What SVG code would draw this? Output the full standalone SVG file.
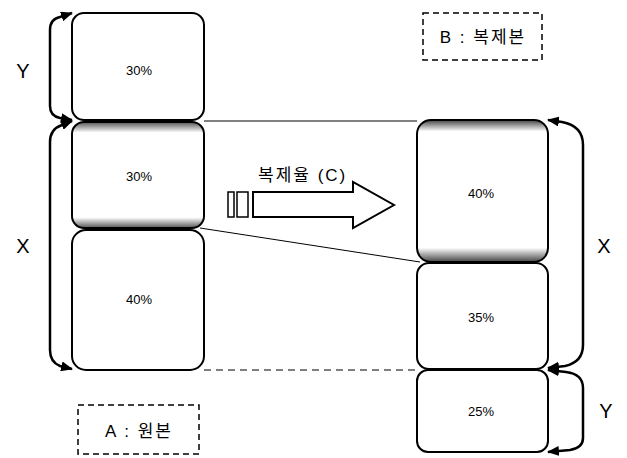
<svg xmlns="http://www.w3.org/2000/svg" width="627" height="458" viewBox="0 0 627 458">
<defs>
<linearGradient id="shadeL" x1="0" y1="0" x2="0" y2="1">
<stop offset="0" stop-color="#555"/><stop offset="0.1" stop-color="#fff"/><stop offset="0.9" stop-color="#fff"/><stop offset="1" stop-color="#555"/>
</linearGradient>
<linearGradient id="shadeR" x1="0" y1="0" x2="0" y2="1">
<stop offset="0" stop-color="#444"/><stop offset="0.08" stop-color="#fff"/><stop offset="0.9" stop-color="#fff"/><stop offset="1" stop-color="#444"/>
</linearGradient>
<marker id="ah" viewBox="0 0 12 10" refX="11" refY="5" markerWidth="12" markerHeight="10" markerUnits="userSpaceOnUse" orient="auto-start-reverse">
<path d="M0,0 L12,5 L0,10 Z" fill="#000"/>
</marker>
<style>
.box{fill:#fff;stroke:#000;stroke-width:2}
.pct{font-family:"Liberation Sans",Arial,sans-serif;font-size:13px;text-anchor:middle;fill:#000}
.lab{font-family:"Liberation Sans",Arial,sans-serif;font-size:20px;text-anchor:middle;fill:#000}
.brk{fill:none;stroke:#000;stroke-width:2.5}
.dash{fill:none;stroke:#000;stroke-width:1.5;stroke-dasharray:6,4}
.kr{font-family:"Liberation Sans","Noto Sans CJK KR",sans-serif;font-size:17px;fill:#000;letter-spacing:2px}
</style>
</defs>
<g id="connectors">
<line x1="204" y1="121" x2="417" y2="121" stroke="#000" stroke-width="1"/>
<line x1="200" y1="228" x2="420" y2="262" stroke="#000" stroke-width="1"/>
<line x1="204" y1="370" x2="417" y2="370" stroke="#000" stroke-width="1" stroke-dasharray="7,5"/>
<path class="brk" marker-start="url(#ah)" marker-end="url(#ah)" d="M72,13 L60,17 Q50,19 50,30 L50,106 Q50,116 60,118 L72,120"/>
<path class="brk" marker-start="url(#ah)" marker-end="url(#ah)" d="M72,121 L62,125 Q50,129 50,142 L50,350 Q50,362 60,366 L72,369"/>
<path class="brk" marker-start="url(#ah)" marker-end="url(#ah)" d="M548,120 L562,122 Q583,126 583,145 L583,345 Q583,362 565,366 L548,368"/>
<path class="brk" marker-start="url(#ah)" marker-end="url(#ah)" d="M548,370 L566,372 Q583,374 583,388 L583,438 Q583,448 570,450 L548,452"/>
</g>
<g id="nodeA1"><rect class="box" x="72" y="13" width="132" height="107" rx="12"/><text class="pct" x="139" y="75">30%</text></g>
<g id="nodeA2"><rect class="box" x="72" y="122" width="132" height="106" rx="12" style="fill:url(#shadeL)"/><text class="pct" x="139" y="181">30%</text></g>
<g id="nodeA3"><rect class="box" x="72" y="230" width="132" height="140" rx="14"/><text class="pct" x="139" y="304">40%</text></g>
<g id="nodeB1"><rect class="box" x="417" y="120" width="131" height="142" rx="14" style="fill:url(#shadeR)"/><text class="pct" x="481" y="198">40%</text></g>
<g id="nodeB2"><rect class="box" x="417" y="263" width="131" height="106" rx="12"/><text class="pct" x="481" y="322">35%</text></g>
<g id="nodeB3"><rect class="box" x="417" y="370" width="131" height="82" rx="11"/><text class="pct" x="481" y="416">25%</text></g>
<g id="labelA"><rect class="dash" x="78" y="405" width="121" height="49"/><text class="kr" x="139" y="437" text-anchor="middle">A : 원본</text></g>
<g id="labelB"><rect class="dash" x="423" y="13" width="119" height="47"/><text class="kr" x="483" y="43" text-anchor="middle">B : 복제본</text></g>
<g id="axisLabels">
<text class="lab" x="23" y="78">Y</text>
<text class="lab" x="23" y="253">X</text>
<text class="lab" x="604" y="253">X</text>
<text class="lab" x="606" y="418">Y</text>
</g>
<g id="rateArrow">
<text class="kr" x="258" y="181">복제율 (C)</text>
<rect x="228" y="192" width="6" height="25" fill="#fff" stroke="#000" stroke-width="1.5"/>
<rect x="237" y="192" width="11" height="25" fill="#fff" stroke="#000" stroke-width="1.5"/>
<path d="M253,192 L353,192 L353,182 L394,205 L353,228 L353,217 L253,217 Z" fill="#fff" stroke="#000" stroke-width="2"/>
</g>
</svg>
